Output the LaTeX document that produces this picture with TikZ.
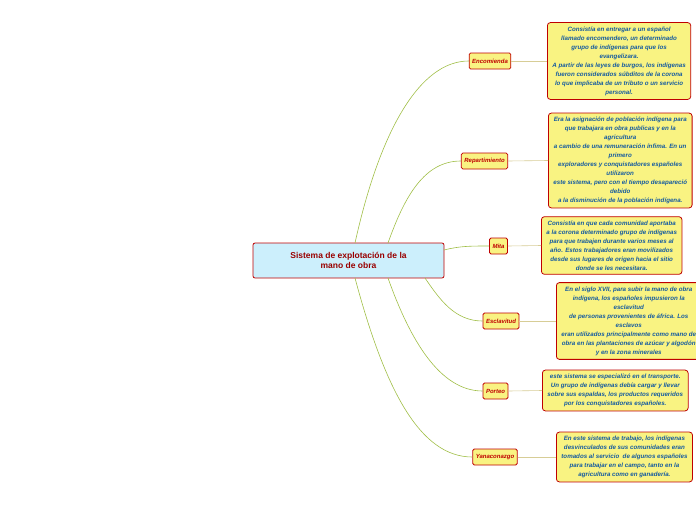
\documentclass[tikz,border=0pt]{standalone}
\usepackage{fontspec}
\setmainfont{Liberation Sans}
\begin{document}
\begin{tikzpicture}[x=1pt,y=-1pt,
  central/.style={draw=red!75!black,fill=cyan!20,rounded corners=2pt,line width=0.8pt,minimum width=191pt,minimum height=35pt,align=center,text=red!60!black,font=\fontsize{8.5}{10}\selectfont\bfseries},
  branch/.style={draw=red!75!black,fill=yellow!45!white!95!olive,rounded corners=1.5pt,line width=0.8pt,minimum height=16pt,inner xsep=3pt,inner ysep=0pt,text=red!75!black,font=\fontsize{6}{7}\selectfont\bfseries\itshape},
  info/.style={draw=red!75!black,fill=yellow!45!white!95!olive,rounded corners=3pt,line width=0.8pt,anchor=west,align=center,inner xsep=5pt,inner ysep=4pt,text={rgb,255:red,20;green,90;blue,160},font=\fontsize{6.2}{9}\selectfont\bfseries\itshape},
  conn/.style={draw={rgb,255:red,160;green,190;blue,70},line width=0.6pt},
  lead/.style={draw={rgb,255:red,215;green,205;blue,150},line width=0.6pt}]
\useasboundingbox (0,0) rectangle (696,520);
\node[central] (c) at (348.5,260.5) {Sistema de explotación de la\\mano de obra};
\node[branch] (b1) at (490,61) {Encomienda};
\node[branch] (b2) at (484.5,161) {Repartimiento};
\node[branch] (b3) at (498.5,246) {Mita};
\node[branch] (b4) at (501,321) {Esclavitud};
\node[branch] (b5) at (495.5,391) {Porteo};
\node[branch] (b6) at (495,457) {Yanaconazgo};
\coordinate (s1) at (355,243);
\coordinate (s2) at (388,243);
\coordinate (s3) at (444,250);
\coordinate (s4) at (425,278);
\coordinate (s5) at (388,278);
\coordinate (s6) at (355,278);
\draw[conn] (s1) .. controls (380,130) and (420,61) .. (b1.west);
\draw[conn] (s2) .. controls (405,195) and (425,161) .. (b2.west);
\draw[conn] (s3) .. controls (460,246) and (470,246) .. (b3.west);
\draw[conn] (s4) .. controls (440,300) and (455,321) .. (b4.west);
\draw[conn] (s5) .. controls (410,340) and (440,391) .. (b5.west);
\draw[conn] (s6) .. controls (385,390) and (420,457) .. (b6.west);
\node[info] (t1) at (547,61) {Consistía en entregar a un español\\llamado encomendero, un determinado\\grupo de indígenas para que los\\evangelizara.\\A partir de las leyes de burgos, los indígenas\\fueron considerados súbditos de la corona\\lo que implicaba de un tributo o un servicio\\personal.};
\node[info] (t2) at (548,160.5) {Era la asignación de población indígena para\\que trabajara en obra publicas y en la\\agricultura\\a cambio de una remuneración ínfima. En un\\primero\\exploradores y conquistadores españoles\\utilizaron\\este sistema, pero con el tiempo desapareció\\debido\\a la disminución de la población indígena.};
\node[info] (t3) at (541,245.5) {Consistía en que cada comunidad aportaba\\a la corona determinado grupo de indígenas\\para que trabajen durante varios meses al\\año. Estos trabajadores eran movilizados\\desde sus lugares de origen hacia el sitio\\donde se les necesitara.};
\node[info] (t4) at (556,321) {En el siglo XVII, para subir la mano de obra\\indígena, los españoles impusieron la\\esclavitud\\de personas provenientes de áfrica. Los\\esclavos\\eran utilizados principalmente como mano de\\obra en las plantaciones de azúcar y algodón\\y en la zona minerales};
\node[info] (t5) at (542,390.5) {este sistema se especializó en el transporte.\\Un grupo de indígenas debía cargar y llevar\\sobre sus espaldas, los productos requeridos\\por los conquistadores españoles.};
\node[info] (t6) at (556,457) {En este sistema de trabajo, los indígenas\\desvinculados de sus comunidades eran\\tomados al servicio~ de algunos españoles\\para trabajar en el campo, tanto en la\\agricultura como en ganadería.};
\foreach \i in {1,...,6} \draw[lead] (b\i.east) -- (t\i.west);
\end{tikzpicture}
\end{document}
